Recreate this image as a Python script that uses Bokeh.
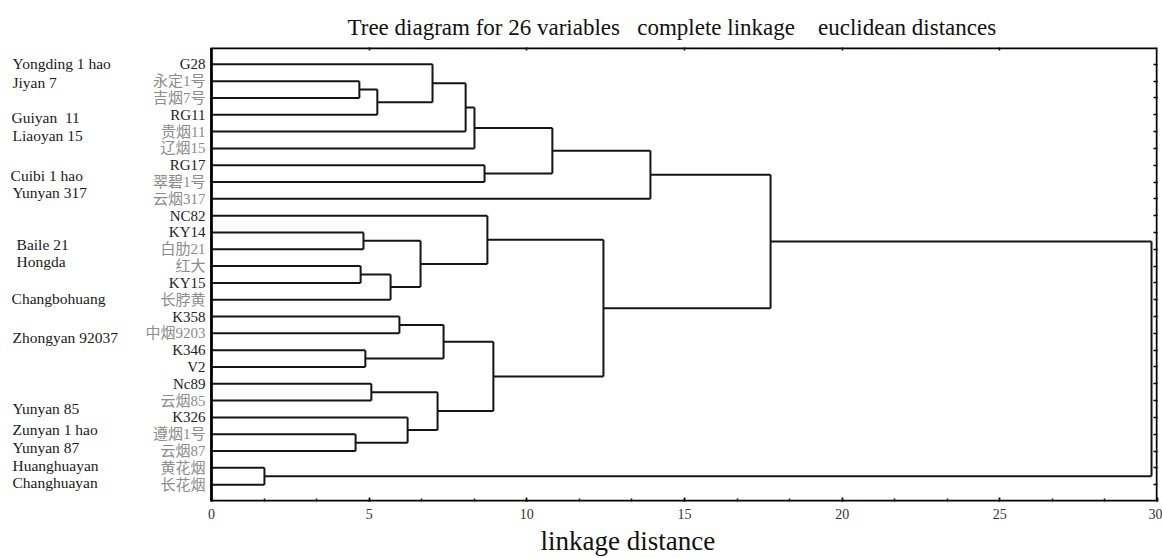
from bokeh.plotting import figure
from bokeh.models import (Range1d, LinearAxis, FixedTicker, ColumnDataSource, Title)
from bokeh.core.properties import value
from bokeh.embed import file_html
from bokeh.resources import INLINE

# ---------------- data ----------------
leaves = ["G28", "永定1号", "吉烟7号", "RG11", "贵烟11", "辽烟15", "RG17", "翠碧1号",
          "云烟317", "NC82", "KY14", "白肋21", "红大", "KY15", "长脖黄", "K358",
          "中烟9203", "K346", "V2", "Nc89", "云烟85", "K326", "遵烟1号", "云烟87",
          "黄花烟", "长花烟"]

# merges: (child_a, child_b, linkage distance); ids >= 26 are earlier merges (26 + k)
merge_a = [1, 26, 0, 28, 29, 6, 30, 32,
           10, 12, 35, 34, 9, 15, 17, 39, 19, 22, 21, 42, 41, 38,
           33, 24, 48]
merge_b = [2, 3, 27, 4, 5, 7, 31, 8,
           11, 13, 14, 36, 37, 16, 18, 40, 20, 23, 43, 44, 45, 46,
           47, 25, 49]
merge_h = [4.69, 5.26, 7.01, 8.06, 8.34, 8.66, 10.81, 13.92,
           4.82, 4.73, 5.68, 6.63, 8.75, 5.96, 4.88, 7.36, 5.07, 4.57, 6.22, 7.17, 8.94, 12.43,
           17.73, 1.68, 29.81]

english_names = ["Yongding 1 hao", "Jiyan 7", "Guiyan\u00a0 11", "Liaoyan 15", "Cuibi 1 hao",
                 "Yunyan 317", "Baile 21", "Hongda", "Changbohuang", "Zhongyan 92037",
                 "Yunyan 85", "Zunyan 1 hao", "Yunyan 87", "Huanghuayan", "Changhuayan"]
english_rows = [-0.05, 1.06, 3.17, 4.23, 6.63, 7.63, 10.74, 11.74, 13.91, 16.26,
                20.48, 21.71, 22.77, 23.83, 24.88]
english_x = [-6.31, -6.31, -6.34, -6.31, -6.37, -6.31, -6.18, -6.18, -6.34, -6.31,
             -6.31, -6.31, -6.31, -6.31, -6.31]

major_ticks = [0, 5, 10, 15, 20, 25, 30]
top_ticks = [5, 10, 15, 20, 25]
minor_ticks = [0, 5 / 3, 10 / 3, 5, 20 / 3, 25 / 3, 10, 35 / 3, 40 / 3, 15, 50 / 3, 55 / 3,
               20, 65 / 3, 70 / 3, 25, 80 / 3, 85 / 3, 30]
title_text = ("Tree diagram for 26 variables \u00a0 complete linkage "
              "\u00a0\u00a0 euclidean distances")
xlabel_text = "linkage distance"

SERIF = "Liberation Serif, Noto Sans CJK SC"
X_MIN, X_MAX = -6.69, 30
Y_TOP, Y_BOT = -1, 26

# ---------------- build dendrogram segments ----------------
n = len(leaves)
ypos = {i: float(i) for i in range(n)}
hpos = {i: 0.0 for i in range(n)}
x0, y0, x1, y1 = [], [], [], []
for k, (a, b, h) in enumerate(zip(merge_a, merge_b, merge_h)):
    for c in (a, b):
        x0.append(hpos[c]); y0.append(ypos[c]); x1.append(h); y1.append(ypos[c])
    x0.append(h); y0.append(ypos[a]); x1.append(h); y1.append(ypos[b])
    cid = n + k
    ypos[cid] = (ypos[a] + ypos[b]) / 2.0
    hpos[cid] = h

p = figure(width=1162, height=558, output_backend="svg", toolbar_location=None,
           x_range=Range1d(X_MIN, X_MAX), y_range=Range1d(Y_BOT, Y_TOP),
           y_axis_location=None, min_border_left=0, min_border_right=5,
           min_border_top=47, min_border_bottom=52)
p.grid.visible = False
p.outline_line_color = None
p.background_fill_color = "white"
p.border_fill_color = "white"

# title
p.title.text = title_text
p.title.align = "left"
p.title.offset = 347
p.title.text_font = SERIF
p.title.text_font_style = "normal"
p.title.text_font_size = "23px"
p.title.text_color = "#111111"
p.title.standoff = 16

# dendrogram
p.segment(x0=x0, y0=y0, x1=x1, y1=y1, line_color="#151515", line_width=2.0)

# frame box around the 0..30 area
p.segment(x0=[0, 0, X_MAX], y0=[Y_TOP, Y_BOT, Y_TOP], x1=[X_MAX, X_MAX, X_MAX],
          y1=[Y_TOP, Y_BOT, Y_BOT], line_color="black", line_width=3.4)
p.segment(x0=[0], y0=[Y_TOP], x1=[0], y1=[Y_BOT], line_color="black", line_width=2.8)

# bottom axis
xa = p.xaxis[0]
xa.ticker = FixedTicker(ticks=major_ticks, minor_ticks=minor_ticks)
xa.axis_line_color = None
xa.major_tick_in = 4
xa.major_tick_out = 0
xa.minor_tick_in = 3
xa.minor_tick_out = 0
xa.major_tick_line_color = "black"
xa.minor_tick_line_color = "black"
xa.major_tick_line_width = 1.5
xa.minor_tick_line_width = 1.5
xa.major_label_text_font = SERIF
xa.major_label_text_font_size = "14px"
xa.major_label_text_color = "#333333"
xa.major_label_standoff = 7

# top axis (ticks only)
top = LinearAxis(ticker=FixedTicker(ticks=top_ticks), axis_line_color=None,
                 major_tick_in=3, major_tick_out=0, minor_tick_in=0, minor_tick_out=0,
                 major_label_text_font_size="0px", major_label_standoff=0,
                 major_tick_line_color="black", major_tick_line_width=1.5)
p.add_layout(top, "above")

# right axis (ticks at every leaf)
right = LinearAxis(ticker=FixedTicker(ticks=list(range(n))),
                   axis_line_color=None, major_tick_in=4, major_tick_out=0,
                   minor_tick_in=0, minor_tick_out=0, major_label_text_font_size="0px",
                   major_label_standoff=0, major_tick_line_color="black",
                   major_tick_line_width=1.5)
p.add_layout(right, "right")

# x label below
p.add_layout(Title(text=xlabel_text, align="left", offset=540, text_font=SERIF,
                   text_font_style="normal", text_font_size="27px",
                   text_color="#111111", standoff=5), "below")

# leaf labels
leaf_colors = ["#8c8c8c" if any(ord(ch) > 127 for ch in s) else "#222222" for s in leaves]
leaf_src = ColumnDataSource(dict(x=[0] * n, y=list(range(n)), t=leaves, c=leaf_colors))
p.text(x="x", y="y", text="t", source=leaf_src, x_offset=-6,
       text_align="right", text_baseline="middle", text_color="c",
       text_font=value(SERIF), text_font_size="15px")

# English names on the far left
en_src = ColumnDataSource(dict(x=english_x, y=english_rows, t=english_names))
p.text(x="x", y="y", text="t", source=en_src,
       text_align="left", text_baseline="middle", text_color="#1a1a1a",
       text_font=value(SERIF), text_font_size="15.5px")

open("out.html", "w").write(file_html(p, INLINE))
